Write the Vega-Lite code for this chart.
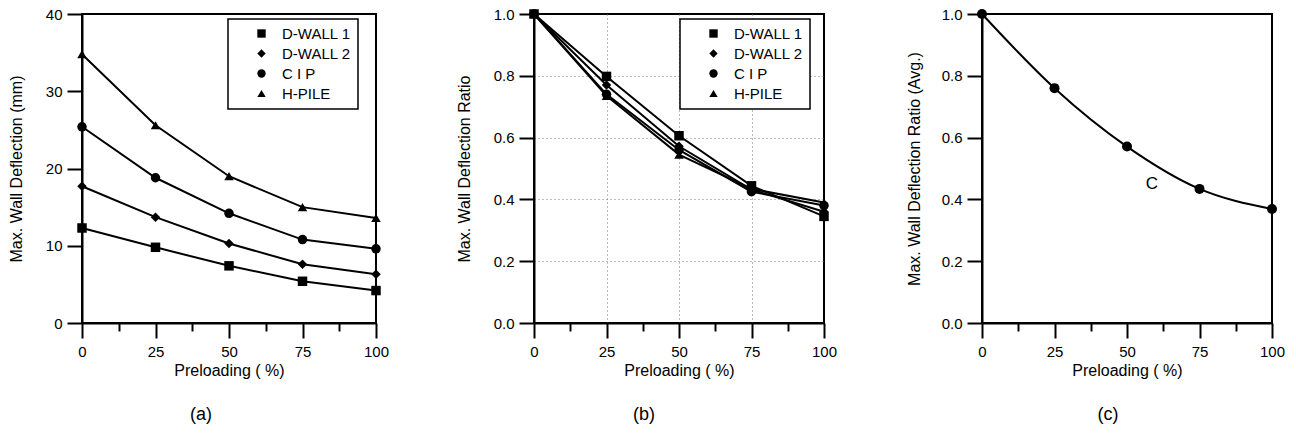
{
  "$schema": "https://vega.github.io/schema/vega-lite/v6.json",
  "background": "white",
  "padding": {"left": 7, "top": 6, "right": 5, "bottom": 5},
  "spacing": 158,
  "bounds": "flush",
  "datasets": {
    "a": [
      {"p": 0, "s": "D-WALL 1", "v": 12.3}, {"p": 25, "s": "D-WALL 1", "v": 9.8}, {"p": 50, "s": "D-WALL 1", "v": 7.4}, {"p": 75, "s": "D-WALL 1", "v": 5.4}, {"p": 100, "s": "D-WALL 1", "v": 4.2},
      {"p": 0, "s": "D-WALL 2", "v": 17.7}, {"p": 25, "s": "D-WALL 2", "v": 13.7}, {"p": 50, "s": "D-WALL 2", "v": 10.3}, {"p": 75, "s": "D-WALL 2", "v": 7.6}, {"p": 100, "s": "D-WALL 2", "v": 6.3},
      {"p": 0, "s": "C I P", "v": 25.4}, {"p": 25, "s": "C I P", "v": 18.8}, {"p": 50, "s": "C I P", "v": 14.2}, {"p": 75, "s": "C I P", "v": 10.8}, {"p": 100, "s": "C I P", "v": 9.6},
      {"p": 0, "s": "H-PILE", "v": 34.8}, {"p": 25, "s": "H-PILE", "v": 25.6}, {"p": 50, "s": "H-PILE", "v": 19.0}, {"p": 75, "s": "H-PILE", "v": 15.0}, {"p": 100, "s": "H-PILE", "v": 13.6}
    ],
    "b": [
      {"p": 0, "s": "D-WALL 1", "r": 1.0}, {"p": 25, "s": "D-WALL 1", "r": 0.798}, {"p": 50, "s": "D-WALL 1", "r": 0.606}, {"p": 75, "s": "D-WALL 1", "r": 0.444}, {"p": 100, "s": "D-WALL 1", "r": 0.345},
      {"p": 0, "s": "D-WALL 2", "r": 1.0}, {"p": 25, "s": "D-WALL 2", "r": 0.77}, {"p": 50, "s": "D-WALL 2", "r": 0.572}, {"p": 75, "s": "D-WALL 2", "r": 0.432}, {"p": 100, "s": "D-WALL 2", "r": 0.36},
      {"p": 0, "s": "C I P", "r": 1.0}, {"p": 25, "s": "C I P", "r": 0.74}, {"p": 50, "s": "C I P", "r": 0.56}, {"p": 75, "s": "C I P", "r": 0.425}, {"p": 100, "s": "C I P", "r": 0.38},
      {"p": 0, "s": "H-PILE", "r": 1.0}, {"p": 25, "s": "H-PILE", "r": 0.735}, {"p": 50, "s": "H-PILE", "r": 0.545}, {"p": 75, "s": "H-PILE", "r": 0.434}, {"p": 100, "s": "H-PILE", "r": 0.39}
    ],
    "c": [
      {"p": 0, "r": 1.0}, {"p": 25, "r": 0.76}, {"p": 50, "r": 0.571}, {"p": 75, "r": 0.434}, {"p": 100, "r": 0.369}
    ],
    "clabel": [{"p": 58.6, "r": 0.45, "t": "C"}]
  },
  "hconcat": [
    {
      "width": 294, "height": 309,
      "title": {"text": "(a)", "orient": "bottom", "fontSize": 18, "fontWeight": "normal", "offset": 28, "dx": -28, "font": "Liberation Sans", "color": "black"},
      "data": {"name": "a"},
      "encoding": {
        "x": {"field": "p", "type": "quantitative", "scale": {"domain": [0, 100], "nice": false}, "title": "Preloading ( %)",
          "axis": {"values": [0, 12.5, 25, 37.5, 50, 62.5, 75, 87.5, 100], "labelExpr": "datum.value % 25 == 0 ? format(datum.value, 'd') : ''",
            "tickSize": {"condition": {"test": "datum.value % 25 != 0", "value": 8}, "value": 15}, "labelPadding": 6, "titlePadding": 3}},
        "y": {"field": "v", "type": "quantitative", "scale": {"domain": [0, 40], "nice": false}, "title": "Max. Wall Deflection (mm)",
          "axis": {"values": [0, 10, 20, 30, 40], "titlePadding": 21}}
      },
      "layer": [
        {"mark": {"type": "line", "color": "black", "strokeWidth": 2, "clip": false}, "encoding": {"detail": {"field": "s"}}},
        {"mark": {"type": "point", "filled": true, "color": "black", "size": 90, "opacity": 1, "clip": false},
          "encoding": {"shape": {"field": "s", "type": "nominal",
            "scale": {"domain": ["D-WALL 1", "D-WALL 2", "C I P", "H-PILE"], "range": ["square", "diamond", "circle", "triangle-up"]},
            "legend": {"orient": "none", "legendX": 146, "legendY": 5, "title": null}}}}
      ]
    },
    {
      "width": 290, "height": 309,
      "title": {"text": "(b)", "orient": "bottom", "fontSize": 18, "fontWeight": "normal", "offset": 28, "dx": -35, "font": "Liberation Sans", "color": "black"},
      "data": {"name": "b"},
      "encoding": {
        "x": {"field": "p", "type": "quantitative", "scale": {"domain": [0, 100], "nice": false}, "title": "Preloading ( %)",
          "axis": {"values": [0, 12.5, 25, 37.5, 50, 62.5, 75, 87.5, 100], "labelExpr": "datum.value % 25 == 0 ? format(datum.value, 'd') : ''",
            "tickSize": {"condition": {"test": "datum.value % 25 != 0", "value": 8}, "value": 15}, "labelPadding": 6, "titlePadding": 3,
            "grid": true, "gridDash": [1, 3], "gridColor": "#777", "gridWidth": 1,
            "gridOpacity": {"condition": {"test": "datum.value % 25 != 0 || datum.value == 0 || datum.value == 100", "value": 0}, "value": 1}}},
        "y": {"field": "r", "type": "quantitative", "scale": {"domain": [0, 1], "nice": false}, "title": "Max. Wall Deflection Ratio",
          "axis": {"values": [0, 0.2, 0.4, 0.6, 0.8, 1.0], "format": ".1f", "titlePadding": 21, "grid": true, "gridDash": [1, 3], "gridColor": "#777", "gridWidth": 1,
            "gridOpacity": {"condition": {"test": "datum.value == 0 || datum.value == 1", "value": 0}, "value": 1}}}
      },
      "layer": [
        {"mark": {"type": "line", "color": "black", "strokeWidth": 2, "clip": false}, "encoding": {"detail": {"field": "s"}}},
        {"mark": {"type": "point", "filled": true, "color": "black", "size": 90, "opacity": 1, "clip": false},
          "encoding": {"shape": {"field": "s", "type": "nominal",
            "scale": {"domain": ["D-WALL 1", "D-WALL 2", "C I P", "H-PILE"], "range": ["square", "diamond", "circle", "triangle-up"]},
            "legend": {"orient": "none", "legendX": 146, "legendY": 5, "title": null}}}}
      ]
    },
    {
      "width": 290, "height": 309,
      "title": {"text": "(c)", "orient": "bottom", "fontSize": 18, "fontWeight": "normal", "offset": 28, "dx": -19, "font": "Liberation Sans", "color": "black"},
      "encoding": {
        "x": {"field": "p", "type": "quantitative", "scale": {"domain": [0, 100], "nice": false}, "title": "Preloading ( %)",
          "axis": {"values": [0, 12.5, 25, 37.5, 50, 62.5, 75, 87.5, 100], "labelExpr": "datum.value % 25 == 0 ? format(datum.value, 'd') : ''",
            "tickSize": {"condition": {"test": "datum.value % 25 != 0", "value": 8}, "value": 15}, "labelPadding": 6, "titlePadding": 3}},
        "y": {"field": "r", "type": "quantitative", "scale": {"domain": [0, 1], "nice": false}, "title": "Max. Wall Deflection Ratio (Avg.)",
          "axis": {"values": [0, 0.2, 0.4, 0.6, 0.8, 1.0], "format": ".1f", "titlePadding": 19}}
      },
      "layer": [
        {"data": {"name": "c"}, "mark": {"type": "line", "color": "black", "strokeWidth": 2, "interpolate": "monotone", "clip": false}, "encoding": {}},
        {"data": {"name": "c"}, "mark": {"type": "point", "filled": true, "color": "black", "size": 100, "opacity": 1, "shape": "circle", "clip": false}, "encoding": {}},
        {"data": {"name": "clabel"}, "mark": {"type": "text", "fontSize": 17, "font": "Liberation Sans", "color": "black", "align": "center", "baseline": "middle"}, "encoding": {"text": {"field": "t"}}}
      ]
    }
  ],
  "resolve": {"scale": {"shape": "independent"}},
  "config": {
    "font": "Liberation Sans",
    "view": {"stroke": "black", "strokeWidth": 2},
    "axis": {"domainColor": "black", "domainWidth": 2, "tickColor": "black", "tickWidth": 2, "tickSize": 15,
      "labelColor": "black", "titleColor": "black", "labelFont": "Liberation Sans", "titleFont": "Liberation Sans",
      "labelFontSize": 15, "titleFontSize": 16, "titleFontWeight": "normal", "grid": false, "labelPadding": 5, "labelFlush": false, "labelOverlap": false},
    "legend": {"strokeColor": "black", "strokeWidth": 1.5, "padding": 7, "rowPadding": 4, "labelFontSize": 15, "labelFont": "Liberation Sans", "labelColor": "black",
      "symbolSize": 70, "symbolFillColor": "black", "symbolStrokeColor": "black", "symbolOffset": 19, "labelOffset": 13, "fillColor": "white",
      "labelExpr": "datum.label + '\u00a0\u00a0\u00a0\u00a0\u00a0\u00a0\u00a0\u00a0'"}
  }
}
